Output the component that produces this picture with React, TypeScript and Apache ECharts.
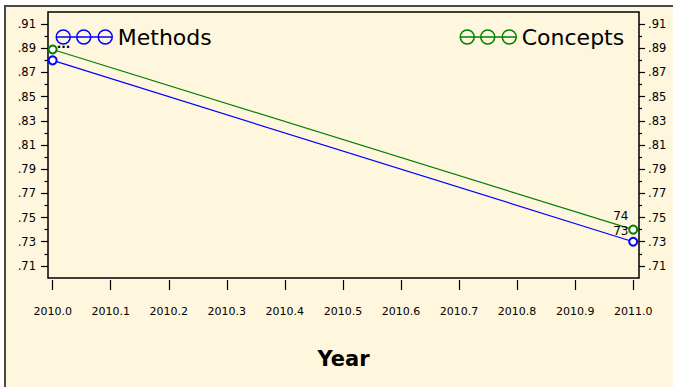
import React, { useEffect, useRef } from "react";
import * as echarts from "echarts";

const years = [2010, 2011];
const methods = [0.88, 0.73];
const concepts = [0.889, 0.74];
const xTicks = [2010.0, 2010.1, 2010.2, 2010.3, 2010.4, 2010.5, 2010.6, 2010.7, 2010.8, 2010.9, 2011.0];
const yMajor = [0.71, 0.73, 0.75, 0.77, 0.79, 0.81, 0.83, 0.85, 0.87, 0.89, 0.91];
const yMinor = [0.72, 0.74, 0.76, 0.78, 0.8, 0.82, 0.84, 0.86, 0.88, 0.9];
const seriesNames = ["Methods", "Concepts"];
const xTitle = "Year";

const FONT = "DejaVu Sans";
const ICON =
  "path://M0,7.5 L57,7.5 M0.5,7.5 A7,7 0 1,0 14.5,7.5 A7,7 0 1,0 0.5,7.5 M21,7.5 A7,7 0 1,0 35,7.5 A7,7 0 1,0 21,7.5 M42.5,7.5 A7,7 0 1,0 56.5,7.5 A7,7 0 1,0 42.5,7.5";

const yFmt = (v: number) => v.toFixed(2).replace(/^0/, "");

export default function App() {
  const ref = useRef<HTMLDivElement>(null);
  useEffect(() => {
    if (!ref.current) return;
    const chart = echarts.init(ref.current, null, { renderer: "svg" });
    const yBase = { type: "value", min: 0.7, max: 0.92, splitLine: { show: false }, axisLine: { show: false } };
    const tickStyle = { color: "#000", width: 1.2 };
    const lab = { fontSize: 12, color: "#000", fontFamily: FONT };
    const mkData = (vals: number[], isTop: boolean) =>
      years.map((y, i) => {
        const v = vals[i];
        if (i === 0) {
          return isTop
            ? { value: [y, v], label: { show: true, position: [9, -6], formatter: "...", ...lab, fontWeight: "bold" } }
            : { value: [y, v], label: { show: false } };
        }
        return {
          value: [y, v],
          label: {
            show: true,
            position: isTop ? [-15, -15] : [-15, -12],
            formatter: String(Math.round(v * 100)),
            ...lab,
          },
        };
      });
    chart.setOption({
      animation: false,
      backgroundColor: "#ffffff",
      textStyle: { fontFamily: FONT },
      graphic: [
        {
          type: "rect",
          z: -10,
          shape: { x: 5, y: 6, width: 700, height: 400 },
          style: { fill: "#fef6dd", stroke: "#4a4a4a", lineWidth: 2 },
        },
      ],
      grid: {
        left: 48,
        right: 34,
        top: 12,
        bottom: 109,
        show: true,
        borderColor: "#000",
        borderWidth: 1.5,
        backgroundColor: "transparent",
      },
      legend: [
        {
          data: [seriesNames[0]],
          left: 50,
          top: 21,
          icon: ICON,
          itemWidth: 57,
          itemHeight: 14,
          itemGap: 4,
          itemStyle: { color: "transparent", borderColor: "#0000ff", borderWidth: 1.5 },
          textStyle: { fontSize: 22, color: "#000", fontFamily: FONT },
        },
        {
          data: [seriesNames[1]],
          left: 454,
          top: 21,
          icon: ICON,
          itemWidth: 57,
          itemHeight: 14,
          itemStyle: { color: "transparent", borderColor: "#008000", borderWidth: 1.5 },
          textStyle: { fontSize: 22, color: "#000", fontFamily: FONT },
        },
      ],
      xAxis: {
        type: "value",
        min: 2009.992,
        max: 2011.01,
        offset: 2,
        splitLine: { show: false },
        axisLine: { show: false },
        axisTick: { show: true, length: 10, lineStyle: tickStyle, customValues: xTicks },
        axisLabel: {
          customValues: xTicks,
          formatter: (v: number) => v.toFixed(1),
          fontSize: 11,
          color: "#000",
          fontFamily: FONT,
          margin: 26,
        },
        name: xTitle,
        nameLocation: "middle",
        nameGap: 68,
        nameTextStyle: { fontSize: 21, fontWeight: "bold", color: "#000", fontFamily: FONT },
      },
      yAxis: [
        {
          ...yBase,
          position: "left",
          axisTick: { show: true, length: 7, lineStyle: tickStyle, customValues: yMajor },
          axisLabel: { customValues: yMajor, formatter: yFmt, fontSize: 11.5, color: "#000", fontFamily: FONT, margin: 12 },
        },
        {
          ...yBase,
          position: "left",
          axisTick: { show: true, length: 3.5, lineStyle: tickStyle, customValues: yMinor },
          axisLabel: { show: false },
        },
        {
          ...yBase,
          position: "right",
          axisTick: { show: true, length: 6, lineStyle: tickStyle, customValues: yMajor },
          axisLabel: { customValues: yMajor, formatter: yFmt, fontSize: 11.5, color: "#000", fontFamily: FONT, margin: 9 },
        },
        {
          ...yBase,
          position: "right",
          axisTick: { show: true, length: 3, lineStyle: tickStyle, customValues: yMinor },
          axisLabel: { show: false },
        },
      ],
      series: [
        {
          name: seriesNames[0],
          type: "line",
          yAxisIndex: 0,
          data: mkData(methods, false),
          color: "#0000ff",
          lineStyle: { width: 1.2, color: "#0000ff" },
          symbol: "emptyCircle",
          symbolSize: 8,
          itemStyle: { color: "#0000ff", borderWidth: 1.5 },
        },
        {
          name: seriesNames[1],
          type: "line",
          yAxisIndex: 0,
          data: mkData(concepts, true),
          color: "#008000",
          lineStyle: { width: 1.2, color: "#008000" },
          symbol: "emptyCircle",
          symbolSize: 8,
          itemStyle: { color: "#008000", borderWidth: 1.5 },
        },
      ],
    });
    return () => chart.dispose();
  }, []);
  return <div ref={ref} style={{ position: "absolute", left: 0, top: 0, width: 673, height: 387 }} />;
}
